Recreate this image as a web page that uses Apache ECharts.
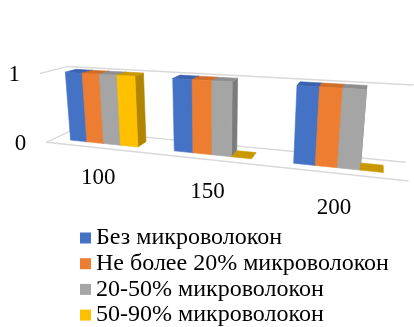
<!DOCTYPE html>
<html>
<head>
<meta charset="utf-8">
<script src="https://cdn.jsdelivr.net/npm/echarts@6/dist/echarts.min.js"></script>
<style>
  html, body { margin: 0; padding: 0; background: #ffffff; }
  #chart { width: 414px; height: 327px; }
</style>
</head>
<body>
<div id="chart"></div>
<script>
// Categories and series values
const categories = ['100', '150', '200'];
const seriesNames = [
  'Без микроволокон',
  'Не более 20% микроволокон',
  '20-50% микроволокон',
  '50-90% микроволокон'
];
const withoutMicrofiber = [1, 1, 1];
const upTo20Percent = [1, 1, 1];
const from20to50Percent = [1, 1, 1];
const from50to90Percent = [1, 0, 0];
const valueTicks = [0, 1];

const seriesValues = [withoutMicrofiber, upTo20Percent, from20to50Percent, from50to90Percent];

// Face colours of the columns: front, top, right side
const palette = [
  { front: '#4472C4', top: '#3A62AE', side: '#2F5597' },
  { front: '#ED7D31', top: '#D06C28', side: '#AE5A21' },
  { front: '#A5A5A5', top: '#8E8E8E', side: '#7B7B7B' },
  { front: '#FFC000', top: '#C99700', side: '#B08500' }
];

const FONT = '"Liberation Serif", "Times New Roman", serif';

// Perspective camera for the pseudo-3D column scene
const CAMERA = {
  yaw: 17.5 * Math.PI / 180,
  pitch: 14.6 * Math.PI / 180,
  focal: 495,
  distance: 1.349,
  cx: 215,
  cy: 116
};
// Plot box (width is 1 world unit), column footprint
const BOX = { height: 0.205, depth: 0.135 };
const BAR = { bandShare: 0.166, depth: 0.054 };
const LABEL_DROP = 0.092;

function project(X, Y, Z) {
  const st = Math.sin(CAMERA.yaw), ct = Math.cos(CAMERA.yaw);
  const sp = Math.sin(CAMERA.pitch), cp = Math.cos(CAMERA.pitch);
  const x1 = X * ct + Z * st;
  const z1 = -X * st + Z * ct;
  const y2 = Y * cp + z1 * sp;
  const z2 = -Y * sp + z1 * cp + CAMERA.distance;
  return [CAMERA.cx + CAMERA.focal * x1 / z2, CAMERA.cy - CAMERA.focal * y2 / z2];
}

// Pixel position on the flat grid -> world X / Y of the box
function toWorld(params, px, py) {
  const r = params.coordSys;
  return [
    (px - r.x) / r.width - 0.5,
    ((r.y + r.height - py) / r.height - 0.5) * BOX.height
  ];
}

function face(points, fill) {
  return {
    type: 'polygon',
    shape: { points: points.map(p => project(p[0], p[1], p[2])) },
    style: { fill: fill, stroke: fill, lineWidth: 0.6 }
  };
}

function columnRenderer(sIdx) {
  const c = palette[sIdx];
  return function (params, api) {
    const cat = api.value(0);
    const val = api.value(1);
    const base = api.coord([cat, 0]);
    const top = api.coord([cat, val]);
    const band = api.size([1, 0])[0];
    const w = band * BAR.bandShare;
    const left = base[0] + (sIdx - seriesNames.length / 2) * w;
    const [X0, Y0] = toWorld(params, left, base[1]);
    const [X1, Y1] = toWorld(params, left + w, top[1]);
    const Z0 = -BAR.depth / 2, Z1 = BAR.depth / 2;
    const children = [];
    if (val > 0) {
      children.push(face([[X1, Y0, Z0], [X1, Y0, Z1], [X1, Y1, Z1], [X1, Y1, Z0]], c.side));
    }
    children.push(face([[X0, Y1, Z0], [X1, Y1, Z0], [X1, Y1, Z1], [X0, Y1, Z1]], c.top));
    if (val > 0) {
      children.push(face([[X0, Y0, Z0], [X1, Y0, Z0], [X1, Y1, Z0], [X0, Y1, Z0]], c.front));
    }
    return { type: 'group', children: children };
  };
}

// Wall gridlines, floor edge and value labels
function wallRenderer(params, api) {
  const v = api.value(1);
  const p = api.coord([0, v]);
  const Y = toWorld(params, p[0], p[1])[1];
  const h = BOX.depth / 2;
  const lineStyle = { stroke: '#D9D9D9', lineWidth: 1.4, fill: null };
  const children = [{
    type: 'polyline',
    shape: { points: [project(-0.5, Y, -h), project(-0.5, Y, h), project(0.5, Y, h)] },
    style: lineStyle
  }];
  if (v === valueTicks[0]) {
    children.push({
      type: 'polyline',
      shape: { points: [project(-0.5, Y, -h), project(0.5, Y, -h)] },
      style: lineStyle
    });
  }
  const corner = project(-0.5, Y, -h);
  children.push({
    type: 'text',
    x: corner[0] - 20,
    y: corner[1] + 1.5,
    style: {
      text: String(v), align: 'right', verticalAlign: 'middle',
      fill: '#000000', fontSize: 23, fontFamily: FONT
    }
  });
  return { type: 'group', children: children };
}

function categoryLabelRenderer(params, api) {
  const i = api.value(0);
  const p = api.coord([i, 0]);
  const X = toWorld(params, p[0], p[1])[0];
  const pos = project(X, -BOX.height / 2 - LABEL_DROP, -BOX.depth / 2);
  return {
    type: 'text',
    x: pos[0],
    y: pos[1],
    style: {
      text: categories[i], align: 'center', verticalAlign: 'middle',
      fill: '#000000', fontSize: 23, fontFamily: FONT
    }
  };
}

const chart = echarts.init(document.getElementById('chart'), null, { renderer: 'canvas' });

const series = [
  {
    type: 'custom',
    name: 'walls',
    silent: true,
    clip: false,
    renderItem: wallRenderer,
    encode: { x: 0, y: 1 },
    data: valueTicks.map(v => [0, v])
  },
  {
    type: 'custom',
    name: 'category labels',
    silent: true,
    clip: false,
    renderItem: categoryLabelRenderer,
    encode: { x: 0, y: 1 },
    data: categories.map((c, i) => [i, 0])
  }
];

seriesNames.forEach((name, s) => {
  series.push({
    type: 'custom',
    name: name,
    clip: false,
    itemStyle: { color: palette[s].front },
    renderItem: columnRenderer(s),
    encode: { x: 0, y: 1 },
    data: seriesValues[s].map((v, i) => [i, v])
  });
});

chart.setOption({
  animation: false,
  backgroundColor: '#ffffff',
  grid: { left: 0, right: 0, top: 0, bottom: 0 },
  xAxis: { type: 'category', data: categories, show: false },
  yAxis: { type: 'value', min: 0, max: 1, interval: 1, show: false },
  legend: {
    data: seriesNames,
    orient: 'vertical',
    left: 80,
    top: 226,
    width: 330,
    height: 140,
    padding: 0,
    icon: 'rect',
    itemWidth: 11,
    itemHeight: 11,
    itemGap: 1.7,
    selectedMode: false,
    textStyle: { fontSize: 24, lineHeight: 20, color: '#000000', fontFamily: FONT }
  },
  series: series
});
</script>
</body>
</html>
